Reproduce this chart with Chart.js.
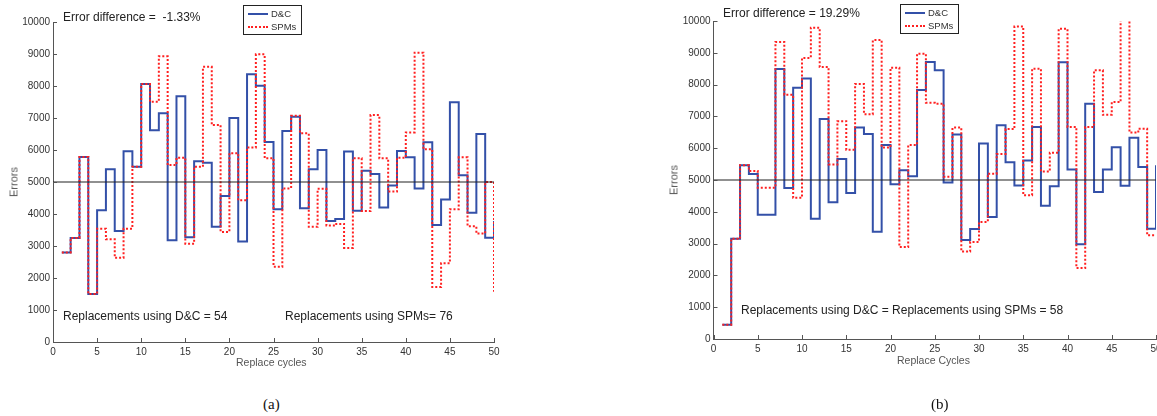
<!DOCTYPE html>
<html lang="en">
<head>
    <meta charset="UTF-8">
    <title>D&amp;C vs SPMs errors</title>
    <script src="https://cdn.jsdelivr.net/npm/chart.js@4.4.0/dist/chart.umd.min.js"></script>
    <style>
        body {
            margin: 0;
            width: 1157px;
            height: 416px;
            overflow: hidden;
            background: #fff;
            font-family: "Liberation Sans", Arial, sans-serif;
            color: #222;
            position: relative;
        }
        .plot {
            position: absolute;
            top: 0;
            height: 380px;
        }
        .txt {
            position: absolute;
            white-space: nowrap;
            line-height: 1;
            font-size: 12px;
            color: #222;
        }
        .axis-title {
            position: absolute;
            white-space: nowrap;
            line-height: 1;
            font-size: 10.5px;
            color: #555;
        }
        .legend {
            position: absolute;
            width: 57px;
            height: 28px;
            border: 1px solid #222;
            background: #fff;
            font-size: 9.5px;
            color: #333;
        }
        .legend .row {
            position: absolute;
            left: 4px;
            height: 10px;
            line-height: 10px;
        }
        .legend .sample {
            display: inline-block;
            width: 20px;
            vertical-align: middle;
            margin-right: 3px;
        }
        .caption {
            position: absolute;
            font-family: "Liberation Serif", "Times New Roman", serif;
            font-size: 15px;
            line-height: 1;
            color: #111;
        }
    </style>
</head>
<body>
    <div class="plot" style="left:0; width:510px;"><canvas id="chartA"></canvas></div>
    <div class="plot" style="left:660px; width:520px;"><canvas id="chartB"></canvas></div>

    <div class="txt" style="left:63px; top:11px;">Error difference = &nbsp;-1.33%</div>
    <div class="txt" style="left:63px; top:310px;">Replacements using D&amp;C = 54</div>
    <div class="txt" style="left:285px; top:310px;">Replacements using SPMs= 76</div>
    <div class="axis-title" style="left:236px; top:357px;">Replace cycles</div>
    <div class="axis-title" style="left:14px; top:182px; font-size:11px; transform: translate(-50%, -50%) rotate(-90deg); transform-origin: center;">Errors</div>
    <div class="legend" style="left:243px; top:5px;">
        <div class="row" style="top:3px;"><span class="sample" style="border-top:2px solid #3350a8;"></span>D&amp;C</div>
        <div class="row" style="top:16px;"><span class="sample" style="border-top:2px dotted #ff2020;"></span>SPMs</div>
    </div>
    <div class="caption" style="left:263px; top:397px;">(a)</div>

    <div class="txt" style="left:723px; top:7px;">Error difference = 19.29%</div>
    <div class="txt" style="left:741px; top:304px;">Replacements using D&amp;C = Replacements using SPMs = 58</div>
    <div class="axis-title" style="left:897px; top:355px;">Replace Cycles</div>
    <div class="axis-title" style="left:674px; top:180px; font-size:11px; transform: translate(-50%, -50%) rotate(-90deg); transform-origin: center;">Errors</div>
    <div class="legend" style="left:900px; top:4px;">
        <div class="row" style="top:3px;"><span class="sample" style="border-top:2px solid #3350a8;"></span>D&amp;C</div>
        <div class="row" style="top:16px;"><span class="sample" style="border-top:2px dotted #ff2020;"></span>SPMs</div>
    </div>
    <div class="caption" style="left:931px; top:397px;">(b)</div>

    <script>
        // replace cycle index (x of each stair step)
        const cycles = [1, 2, 3, 4, 5, 6, 7, 8, 9, 10, 11, 12, 13, 14, 15, 16, 17, 18, 19, 20,
            21, 22, 23, 24, 25, 26, 27, 28, 29, 30, 31, 32, 33, 34, 35, 36, 37, 38, 39, 40,
            41, 42, 43, 44, 45, 46, 47, 48, 49, 50];

        // (a) errors per cycle
        const dncA = [2800, 3250, 5780, 1500, 4120, 5400, 3470, 5960, 5480, 8060,
            6620, 7150, 3180, 7680, 3270, 5650, 5600, 3600, 4560, 7000,
            3140, 8370, 8010, 6250, 4150, 6590, 7040, 4180, 5400, 6000,
            3780, 3840, 5950, 4100, 5350, 5250, 4200, 4890, 5970, 5770,
            4800, 6240, 3660, 4450, 7490, 5210, 4040, 6500, 3260, 3780];
        const spmA = [2800, 3250, 5780, 1500, 3540, 3210, 2630, 3540, 5480, 8060,
            7510, 8930, 5530, 5760, 3070, 5480, 8600, 6780, 3440, 5900,
            4430, 6080, 8990, 5740, 2350, 4800, 7070, 6520, 3600, 4790,
            3640, 3690, 2940, 5740, 4090, 7090, 5740, 4700, 5760, 6550,
            9040, 6020, 1720, 2460, 4150, 5770, 3620, 3390, 5000, 1570];

        // (b) errors per cycle
        const dncB = [450, 3150, 5460, 5190, 3910, 3910, 8490, 4750, 7900, 8190,
            3780, 6920, 4300, 5660, 4590, 6650, 6450, 3370, 6100, 4870,
            5310, 5120, 7830, 8710, 8450, 4920, 6430, 3110, 3460, 6150,
            3840, 6720, 5560, 4830, 5610, 6670, 4190, 4800, 8700, 5330,
            2980, 7400, 4620, 5330, 6030, 4820, 6330, 5410, 3470, 5460];
        const spmB = [450, 3150, 5460, 5280, 4760, 4760, 9340, 7680, 4440, 8840,
            9790, 8550, 5490, 6850, 5950, 8020, 7070, 9400, 6020, 8530,
            2890, 6100, 8970, 7430, 7400, 5100, 6650, 2750, 3050, 3680,
            5200, 5820, 6600, 9830, 4520, 8500, 5270, 5860, 9760, 6670,
            2230, 6670, 8450, 7050, 7450, 10100, 6490, 6610, 3260, 3260];

        const refLevel = 5000;
        const xRange = [0, 50];

        const blue = '#3350a8';
        const red = '#ff2020';

        // MATLAB style ticks pointing into the plot
        const inwardTicks = {
            id: 'inwardTicks',
            afterDatasetsDraw(chart) {
                const { ctx, chartArea, scales } = chart;
                ctx.save();
                ctx.strokeStyle = '#555';
                ctx.lineWidth = 1;
                ctx.beginPath();
                scales.x.ticks.forEach(t => {
                    const px = Math.round(scales.x.getPixelForValue(t.value)) + 0.5;
                    ctx.moveTo(px, chartArea.bottom);
                    ctx.lineTo(px, chartArea.bottom - 4);
                });
                scales.y.ticks.forEach(t => {
                    const py = Math.round(scales.y.getPixelForValue(t.value)) + 0.5;
                    ctx.moveTo(chartArea.left, py);
                    ctx.lineTo(chartArea.left + 4, py);
                });
                ctx.stroke();
                ctx.restore();
            }
        };

        function makeChart(id, dnc, spm, yWidth, xHeight, pad) {
            const toPts = arr => cycles.map((c, i) => ({ x: c, y: arr[i] }));
            return new Chart(document.getElementById(id), {
                type: 'line',
                data: {
                    datasets: [
                        {
                            label: 'ref',
                            data: xRange.map(x => ({ x: x, y: refLevel })),
                            borderColor: '#222',
                            borderWidth: 1.2,
                            pointRadius: 0,
                            order: 0
                        },
                        {
                            label: 'SPMs',
                            data: toPts(spm),
                            stepped: 'before',
                            borderColor: red,
                            borderWidth: 2,
                            borderDash: [2, 2],
                            pointRadius: 0,
                            order: 1
                        },
                        {
                            label: 'D&C',
                            data: toPts(dnc),
                            stepped: 'before',
                            borderColor: blue,
                            borderWidth: 2,
                            pointRadius: 0,
                            order: 2
                        }
                    ]
                },
                options: {
                    responsive: true,
                    maintainAspectRatio: false,
                    animation: false,
                    layout: { padding: pad },
                    plugins: {
                        legend: { display: false },
                        tooltip: { enabled: false }
                    },
                    scales: {
                        x: {
                            type: 'linear',
                            min: 0,
                            max: 50,
                            grid: { display: false, drawTicks: false, tickLength: 0 },
                            border: { display: true, color: '#555', width: 1 },
                            ticks: {
                                stepSize: 5,
                                padding: 4,
                                maxRotation: 0,
                                color: '#333',
                                font: { family: 'Liberation Sans', size: 10 }
                            },
                            afterFit: s => { s.height = xHeight; }
                        },
                        y: {
                            min: 0,
                            max: 10000,
                            grid: { display: false, drawTicks: false, tickLength: 0 },
                            border: { display: true, color: '#555', width: 1 },
                            ticks: {
                                stepSize: 1000,
                                padding: 3,
                                color: '#333',
                                font: { family: 'Liberation Sans', size: 10 },
                                callback: v => String(v)
                            },
                            afterFit: s => { s.width = yWidth; }
                        }
                    }
                },
                plugins: [inwardTicks]
            });
        }

        makeChart('chartA', dncA, spmA, 53, 38, { top: 22, right: 16, bottom: 0, left: 0 });
        makeChart('chartB', dncB, spmB, 53.5, 41, { top: 21, right: 24, bottom: 0, left: 0 });
    </script>
</body>
</html>
